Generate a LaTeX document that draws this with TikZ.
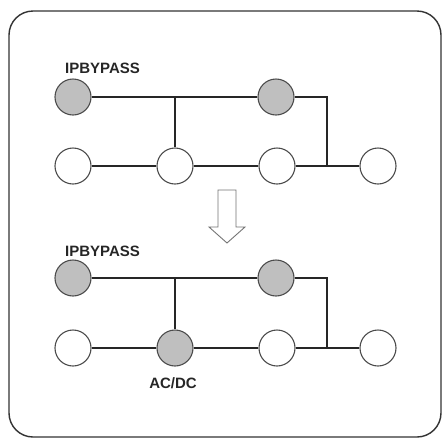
\documentclass[tikz,border=0pt]{standalone}
\usepackage{fontspec}
\setmainfont{Liberation Sans}
\begin{document}
\begin{tikzpicture}[x=1pt,y=-1pt,
  bus/.style={circle,draw=black!70,line width=1.1pt,minimum size=36pt,inner sep=0pt},
  grayb/.style={bus,fill=black!25},
  whiteb/.style={bus,fill=white},
  wire/.style={draw=black!85,line width=1.4pt},
  lbl/.style={font=\bfseries\fontsize{15}{17}\selectfont,text=black!85,inner sep=0pt}]
\useasboundingbox (0,0) rectangle (448,440);
\draw[draw=black!80,line width=1.4pt,rounded corners=24pt] (9,11) rectangle (441,437);
% top diagram
\node[grayb] (a1) at (73,97) {};
\node[grayb] (a2) at (276,97) {};
\node[whiteb] (b1) at (73,166) {};
\node[whiteb] (b2) at (175,166) {};
\node[whiteb] (b3) at (277,166) {};
\node[whiteb] (b4) at (378,166) {};
\coordinate (j1) at (175,97);
\coordinate (k1) at (327,97);
\coordinate (m1) at (327,166);
\draw[wire] (a1) -- (a2);
\draw[wire] (j1) -- (b2);
\draw[wire] (a2.east) -- (k1) -- (m1);
\draw[wire] (b1) -- (b2);
\draw[wire] (b2) -- (b3);
\draw[wire] (b3) -- (b4);
\node[lbl,anchor=west] (t1) at (65,68) {IPBYPASS};
% arrow
\draw[draw=black!55,line width=0.9pt,fill=white] (218,190) -- (236,190) -- (236,227) -- (245,227) -- (227,243) -- (209,227) -- (218,227) -- cycle;
% bottom diagram
\node[grayb] (c1) at (73,278) {};
\node[grayb] (c2) at (276,278) {};
\node[whiteb] (d1) at (73,348) {};
\node[grayb] (d2) at (175,348) {};
\node[whiteb] (d3) at (277,348) {};
\node[whiteb] (d4) at (378,348) {};
\coordinate (j2) at (175,278);
\coordinate (k2) at (327,278);
\coordinate (m2) at (327,348);
\draw[wire] (c1) -- (c2);
\draw[wire] (j2) -- (d2);
\draw[wire] (c2.east) -- (k2) -- (m2);
\draw[wire] (d1) -- (d2);
\draw[wire] (d2) -- (d3);
\draw[wire] (d3) -- (d4);
\node[lbl,anchor=west] (t2) at (65,251) {IPBYPASS};
\node[lbl] (t3) at (173,383) {AC/DC};
\end{tikzpicture}
\end{document}
